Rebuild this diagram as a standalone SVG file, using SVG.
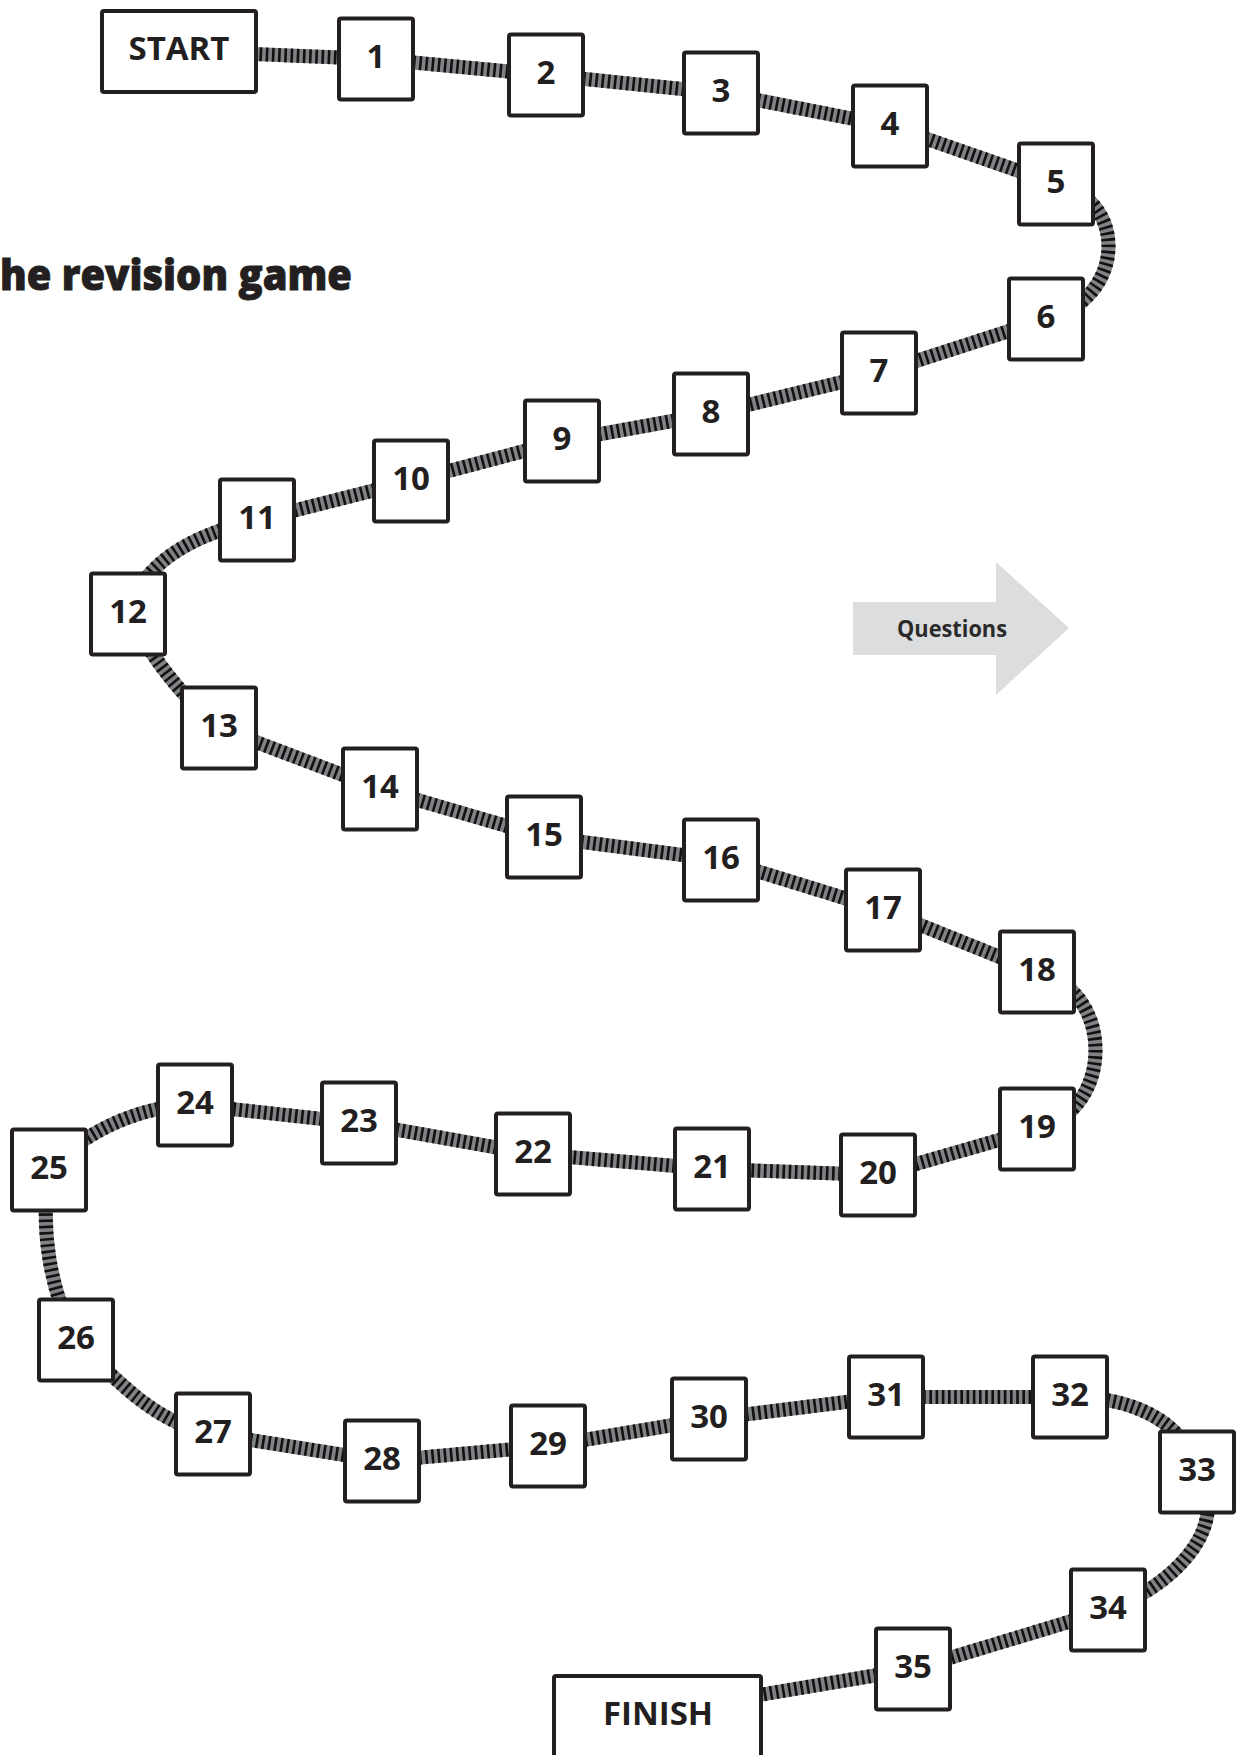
<svg xmlns="http://www.w3.org/2000/svg" xmlns:xlink="http://www.w3.org/1999/xlink" width="1242" height="1755" viewBox="0 0 1242 1755">
<style>
.rail{fill:none;stroke:#808285;stroke-width:14}
.ties{fill:none;stroke:#111;stroke-width:14;stroke-dasharray:2.6 3.6}
.box{fill:#fff;stroke:#231f20;stroke-width:4}
.num{font-family:"Open Sans","Noto Sans",sans-serif;font-weight:700;font-size:33px;fill:#231f20;text-anchor:middle}
.title{font-family:"Open Sans","Noto Sans",sans-serif;font-weight:800;font-size:42px;fill:#231f20;stroke:#231f20;stroke-width:0.9}
.q{font-family:"Open Sans","Noto Sans",sans-serif;font-weight:700;font-size:23px;fill:#2a2a2a}
</style>
<defs>
<path id="s0" d="M179,51 L376,59"/>
<path id="s1" d="M376,59 L546,75"/>
<path id="s2" d="M546,75 L721,93"/>
<path id="s3" d="M721,93 L890,126"/>
<path id="s4" d="M890,126 L1056,184"/>
<path id="s5" d="M1056,184 C1130,200 1125,300 1046,319"/>
<path id="s6" d="M1046,319 L879,373"/>
<path id="s7" d="M879,373 L711,414"/>
<path id="s8" d="M711,414 L562,441"/>
<path id="s9" d="M562,441 L411,481"/>
<path id="s10" d="M411,481 L257,520"/>
<path id="s11" d="M257,520 C190,535 140,565 129,614"/>
<path id="s12" d="M129,614 C150,655 180,695 219,728"/>
<path id="s13" d="M219,728 L380,789"/>
<path id="s14" d="M380,789 L544,837"/>
<path id="s15" d="M544,837 L721,860"/>
<path id="s16" d="M721,860 L883,910"/>
<path id="s17" d="M883,910 L1037,972"/>
<path id="s18" d="M1037,972 C1115,990 1115,1110 1037,1129"/>
<path id="s19" d="M1037,1129 L878,1175"/>
<path id="s20" d="M878,1175 L712,1169"/>
<path id="s21" d="M712,1169 L533,1154"/>
<path id="s22" d="M533,1154 L359,1123"/>
<path id="s23" d="M359,1123 L195,1105"/>
<path id="s24" d="M195,1105 C150,1105 90,1125 49,1170"/>
<path id="s25" d="M49,1170 C40,1230 50,1290 76,1340"/>
<path id="s26" d="M76,1340 C120,1385 160,1425 213,1434"/>
<path id="s27" d="M213,1434 L382,1461"/>
<path id="s28" d="M382,1461 L548,1446"/>
<path id="s29" d="M548,1446 L709,1419"/>
<path id="s30" d="M709,1419 L886,1397"/>
<path id="s31" d="M886,1397 L1070,1397"/>
<path id="s32" d="M1070,1397 C1130,1397 1185,1420 1197,1472"/>
<path id="s33" d="M1197,1472 C1235,1530 1165,1590 1108,1610"/>
<path id="s34" d="M1108,1610 L913,1669"/>
<path id="s35" d="M913,1669 L700,1705"/>
</defs>
<rect width="1242" height="1755" fill="#fff"/>
<text class="title" x="0" y="290" textLength="352" lengthAdjust="spacingAndGlyphs">he revision game</text>
<g id="questions-arrow">
<polygon points="853,602 996,602 996,562 1069,628 996,695 996,655 853,655" fill="#dcddde"/>
<text class="q" x="897" y="637" textLength="110" lengthAdjust="spacingAndGlyphs">Questions</text>
</g>
<g id="connectors">
<g class="rail">
<use xlink:href="#s0"/><use xlink:href="#s1"/><use xlink:href="#s2"/><use xlink:href="#s3"/><use xlink:href="#s4"/><use xlink:href="#s5"/><use xlink:href="#s6"/><use xlink:href="#s7"/><use xlink:href="#s8"/><use xlink:href="#s9"/><use xlink:href="#s10"/><use xlink:href="#s11"/><use xlink:href="#s12"/><use xlink:href="#s13"/><use xlink:href="#s14"/><use xlink:href="#s15"/><use xlink:href="#s16"/><use xlink:href="#s17"/><use xlink:href="#s18"/><use xlink:href="#s19"/><use xlink:href="#s20"/><use xlink:href="#s21"/><use xlink:href="#s22"/><use xlink:href="#s23"/><use xlink:href="#s24"/><use xlink:href="#s25"/><use xlink:href="#s26"/><use xlink:href="#s27"/><use xlink:href="#s28"/><use xlink:href="#s29"/><use xlink:href="#s30"/><use xlink:href="#s31"/><use xlink:href="#s32"/><use xlink:href="#s33"/><use xlink:href="#s34"/><use xlink:href="#s35"/>
</g>
<g class="ties">
<use xlink:href="#s0"/><use xlink:href="#s1"/><use xlink:href="#s2"/><use xlink:href="#s3"/><use xlink:href="#s4"/><use xlink:href="#s5"/><use xlink:href="#s6"/><use xlink:href="#s7"/><use xlink:href="#s8"/><use xlink:href="#s9"/><use xlink:href="#s10"/><use xlink:href="#s11"/><use xlink:href="#s12"/><use xlink:href="#s13"/><use xlink:href="#s14"/><use xlink:href="#s15"/><use xlink:href="#s16"/><use xlink:href="#s17"/><use xlink:href="#s18"/><use xlink:href="#s19"/><use xlink:href="#s20"/><use xlink:href="#s21"/><use xlink:href="#s22"/><use xlink:href="#s23"/><use xlink:href="#s24"/><use xlink:href="#s25"/><use xlink:href="#s26"/><use xlink:href="#s27"/><use xlink:href="#s28"/><use xlink:href="#s29"/><use xlink:href="#s30"/><use xlink:href="#s31"/><use xlink:href="#s32"/><use xlink:href="#s33"/><use xlink:href="#s34"/><use xlink:href="#s35"/>
</g>
</g>
<g id="start"><rect class="box" x="102" y="11" width="154" height="81" rx="2"/><text class="num" x="179" y="60">START</text></g>
<g id="finish"><rect class="box" x="554" y="1676" width="207" height="100" rx="2"/><text class="num" x="658" y="1725">FINISH</text></g>
<g id="n1"><rect class="box" x="339" y="18.5" width="74" height="81" rx="2"/><text class="num" x="376" y="68">1</text></g>
<g id="n2"><rect class="box" x="509" y="34.5" width="74" height="81" rx="2"/><text class="num" x="546" y="84">2</text></g>
<g id="n3"><rect class="box" x="684" y="52.5" width="74" height="81" rx="2"/><text class="num" x="721" y="102">3</text></g>
<g id="n4"><rect class="box" x="853" y="85.5" width="74" height="81" rx="2"/><text class="num" x="890" y="135">4</text></g>
<g id="n5"><rect class="box" x="1019" y="143.5" width="74" height="81" rx="2"/><text class="num" x="1056" y="193">5</text></g>
<g id="n6"><rect class="box" x="1009" y="278.5" width="74" height="81" rx="2"/><text class="num" x="1046" y="328">6</text></g>
<g id="n7"><rect class="box" x="842" y="332.5" width="74" height="81" rx="2"/><text class="num" x="879" y="382">7</text></g>
<g id="n8"><rect class="box" x="674" y="373.5" width="74" height="81" rx="2"/><text class="num" x="711" y="423">8</text></g>
<g id="n9"><rect class="box" x="525" y="400.5" width="74" height="81" rx="2"/><text class="num" x="562" y="450">9</text></g>
<g id="n10"><rect class="box" x="374" y="440.5" width="74" height="81" rx="2"/><text class="num" x="411" y="490">10</text></g>
<g id="n11"><rect class="box" x="220" y="479.5" width="74" height="81" rx="2"/><text class="num" x="257" y="529">11</text></g>
<g id="n12"><rect class="box" x="91" y="573.5" width="74" height="81" rx="2"/><text class="num" x="128" y="623">12</text></g>
<g id="n13"><rect class="box" x="182" y="687.5" width="74" height="81" rx="2"/><text class="num" x="219" y="737">13</text></g>
<g id="n14"><rect class="box" x="343" y="748.5" width="74" height="81" rx="2"/><text class="num" x="380" y="798">14</text></g>
<g id="n15"><rect class="box" x="507" y="796.5" width="74" height="81" rx="2"/><text class="num" x="544" y="846">15</text></g>
<g id="n16"><rect class="box" x="684" y="819.5" width="74" height="81" rx="2"/><text class="num" x="721" y="869">16</text></g>
<g id="n17"><rect class="box" x="846" y="869.5" width="74" height="81" rx="2"/><text class="num" x="883" y="919">17</text></g>
<g id="n18"><rect class="box" x="1000" y="931.5" width="74" height="81" rx="2"/><text class="num" x="1037" y="981">18</text></g>
<g id="n19"><rect class="box" x="1000" y="1088.5" width="74" height="81" rx="2"/><text class="num" x="1037" y="1138">19</text></g>
<g id="n20"><rect class="box" x="841" y="1134.5" width="74" height="81" rx="2"/><text class="num" x="878" y="1184">20</text></g>
<g id="n21"><rect class="box" x="675" y="1128.5" width="74" height="81" rx="2"/><text class="num" x="712" y="1178">21</text></g>
<g id="n22"><rect class="box" x="496" y="1113.5" width="74" height="81" rx="2"/><text class="num" x="533" y="1163">22</text></g>
<g id="n23"><rect class="box" x="322" y="1082.5" width="74" height="81" rx="2"/><text class="num" x="359" y="1132">23</text></g>
<g id="n24"><rect class="box" x="158" y="1064.5" width="74" height="81" rx="2"/><text class="num" x="195" y="1114">24</text></g>
<g id="n25"><rect class="box" x="12" y="1129.5" width="74" height="81" rx="2"/><text class="num" x="49" y="1179">25</text></g>
<g id="n26"><rect class="box" x="39" y="1299.5" width="74" height="81" rx="2"/><text class="num" x="76" y="1349">26</text></g>
<g id="n27"><rect class="box" x="176" y="1393.5" width="74" height="81" rx="2"/><text class="num" x="213" y="1443">27</text></g>
<g id="n28"><rect class="box" x="345" y="1420.5" width="74" height="81" rx="2"/><text class="num" x="382" y="1470">28</text></g>
<g id="n29"><rect class="box" x="511" y="1405.5" width="74" height="81" rx="2"/><text class="num" x="548" y="1455">29</text></g>
<g id="n30"><rect class="box" x="672" y="1378.5" width="74" height="81" rx="2"/><text class="num" x="709" y="1428">30</text></g>
<g id="n31"><rect class="box" x="849" y="1356.5" width="74" height="81" rx="2"/><text class="num" x="886" y="1406">31</text></g>
<g id="n32"><rect class="box" x="1033" y="1356.5" width="74" height="81" rx="2"/><text class="num" x="1070" y="1406">32</text></g>
<g id="n33"><rect class="box" x="1160" y="1431.5" width="74" height="81" rx="2"/><text class="num" x="1197" y="1481">33</text></g>
<g id="n34"><rect class="box" x="1071" y="1569.5" width="74" height="81" rx="2"/><text class="num" x="1108" y="1619">34</text></g>
<g id="n35"><rect class="box" x="876" y="1628.5" width="74" height="81" rx="2"/><text class="num" x="913" y="1678">35</text></g>
</svg>
